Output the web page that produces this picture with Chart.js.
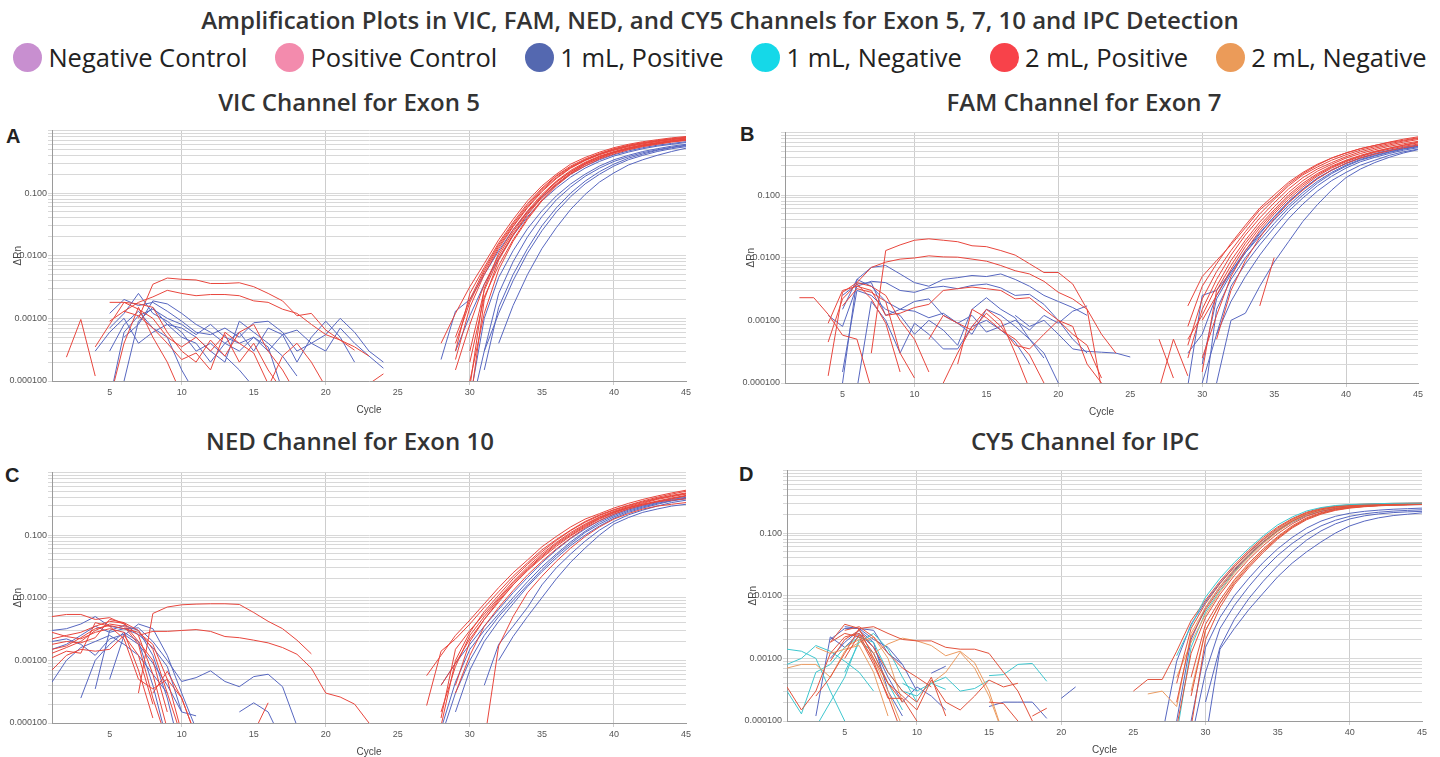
<!DOCTYPE html>
<html>
<head>
<meta charset="utf-8">
<title>Amplification Plots</title>
<script src="https://cdn.jsdelivr.net/npm/chart.js@4.4.1/dist/chart.umd.min.js"></script>
<style>
  body { margin:0; width:1440px; height:757px; overflow:hidden; background:#fff; position:relative;
         font-family:'Open Sans', sans-serif; color:#333; }
  #title { position:absolute; top:4px; left:0; width:1440px; text-align:center; font-weight:600; font-size:24px; line-height:32px; }
  #legend { position:absolute; top:40px; left:0; width:1440px; display:flex; justify-content:center; gap:28px; }
  .item { display:flex; align-items:center; gap:6px; font-size:25.5px; line-height:34px; color:#222; }
  .dot { width:29px; height:29px; border-radius:50%; }
  .sub { position:absolute; width:600px; text-align:center; font-weight:600; font-size:24px; line-height:32px; }
  .letter { position:absolute; font-family:'Liberation Sans', Arial, sans-serif; font-weight:700; font-size:20px; color:#222; }
  canvas { position:absolute; }
</style>
</head>
<body>
<div id="title">Amplification Plots in VIC, FAM, NED, and CY5 Channels for Exon 5, 7, 10 and IPC Detection</div>
<div id="legend"></div>

<div class="sub" style="left:49px;top:86px">VIC Channel for Exon 5</div>
<div class="sub" style="left:784px;top:86px">FAM Channel for Exon 7</div>
<div class="sub" style="left:50px;top:425px">NED Channel for Exon 10</div>
<div class="sub" style="left:785px;top:425px">CY5 Channel for IPC</div>

<div class="letter" style="left:6px;top:125px">A</div>
<div class="letter" style="left:740px;top:123px">B</div>
<div class="letter" style="left:5px;top:464px">C</div>
<div class="letter" style="left:739px;top:463px">D</div>

<canvas id="chartA" width="700" height="292" style="left:0;top:124px"></canvas>
<canvas id="chartB" width="699" height="292" style="left:733px;top:126px"></canvas>
<canvas id="chartC" width="700" height="292" style="left:0;top:466px"></canvas>
<canvas id="chartD" width="701" height="292" style="left:735px;top:464px"></canvas>

<script>
'use strict';

// legend
var legendLabels = ['Negative Control', 'Positive Control', '1 mL, Positive', '1 mL, Negative', '2 mL, Positive', '2 mL, Negative'];
var legendColors = ['#c88fd0', '#f38bad', '#5468b0', '#15d8e8', '#f8424a', '#eb9b59'];

// axes
var cycleTicks = [5, 10, 15, 20, 25, 30, 35, 40, 45];
var yTickLabels = ['0.000100', '0.00100', '0.0100', '0.100'];

// each row: [first cycle, dRn at that cycle, next cycle, ...]

// ---- A: VIC, exon 5
var vicBlueNoise = [
  [5, 7e-4, 1.2e-3, 2.5e-3, 1.2e-3, 9e-4, 6e-4, 3e-4, 4e-4, 2.5e-4, 1.5e-4, 8e-5],
  [5, 1.2e-3, 2.0e-3, 1.6e-3, 1.8e-3, 1.3e-3, 9e-4, 6e-4, 5.5e-4, 7e-4, 5e-4, 8.5e-4, 9e-4, 6e-4, 3e-4, 4e-4, 5.5e-4, 1e-3, 6e-4, 3e-4, 2e-4],
  [5, 3e-4, 8e-4, 1.3e-3, 7e-4, 5e-4, 1.5e-4, 6e-5],
  [4, 3e-4, 6e-4, 1.0e-3, 4e-4, 6e-4, 8e-4, 5e-4, 4e-4, 2e-4, 4e-4, 6e-4, 3e-4, 7e-4, 5.5e-4, 6.5e-4, 4e-4, 3e-4, 7e-4, 4e-4, 2.5e-4, 1.6e-4],
  [6, 1e-4, 9e-4, 1.5e-3, 8e-4, 7e-4, 5e-4, 3e-4, 2e-4, 9e-4, 6e-4, 4e-4, 2.5e-4, 1.2e-4],
  [5, 5e-5, 6e-4, 1.1e-3, 1.4e-3, 1e-3, 8e-4, 5.5e-4, 8e-4, 5e-4, 4e-4, 5e-4, 3e-4, 5.5e-4, 2e-4, 5e-4, 9e-4, 5e-4, 2e-4],
  [6, 5e-4, 8e-4, 1.9e-3, 1.7e-3, 1.2e-3, 8e-4, 6e-4, 4e-4, 3e-4, 5e-4, 3.5e-4, 7e-5]
];
var vicRedNoise = [
  [7, 1.0e-3, 3.5e-3, 4.4e-3, 4.2e-3, 4.1e-3, 3.6e-3, 3.6e-3, 3.7e-3, 3.2e-3, 2.5e-3, 1.9e-3, 1.1e-3, 1.2e-3, 6.5e-4, 4.5e-4, 3.1e-4],
  [6, 1.3e-3, 1.8e-3, 2.2e-3, 2.8e-3, 2.5e-3, 2.3e-3, 2.4e-3, 2.4e-3, 2.3e-3, 1.9e-3, 1.8e-3, 1.4e-3, 1.2e-3, 8e-4, 5.5e-4, 4.5e-4, 3.5e-4, 2.5e-4],
  [2, 2.4e-4, 9.6e-4, 1.2e-4],
  [4, 3.5e-4, 8e-4, 1.8e-3, 1.7e-3, 1.5e-3, 6e-4, 3e-4, 2e-4, 4.5e-4, 2.5e-4, 6e-4, 8e-4, 3e-4, 1.5e-4, 6e-5],
  [5, 1.8e-3, 1.8e-3, 1.4e-3, 1.0e-3, 5e-4, 3.5e-4, 5e-4, 3e-4, 5.5e-4, 2e-4, 4e-4, 1.5e-4, 7e-5],
  [5, 9e-4, 1.3e-3, 1.1e-3, 7e-4, 4e-4, 2.2e-4, 2.8e-4, 1.5e-4, 6e-4, 4e-4, 2.8e-4, 9e-5],
  [5, 5e-5, 4e-4, 1.5e-3, 5e-4, 2e-4, 6e-5],
  [16, 8e-5, 2.5e-4, 4e-4, 2e-4, 8e-5],
  [23, 9e-5, 1.3e-4]
];
var vicBlueAmp = [
  [28, 2.2e-4, 1.3e-3, 2.0e-3, 5e-3, 0.012, 0.026, 0.05, 0.085, 0.135, 0.2, 0.27, 0.34, 0.41, 0.47, 0.53, 0.58, 0.62, 0.66],
  [30, 5e-5, 1.0e-3, 4.5e-3, 0.012, 0.027, 0.052, 0.09, 0.14, 0.2, 0.27, 0.34, 0.4, 0.46, 0.51, 0.56, 0.6],
  [31, 1.5e-4, 1.5e-3, 5e-3, 0.013, 0.03, 0.058, 0.1, 0.155, 0.22, 0.29, 0.36, 0.42, 0.48, 0.53, 0.57],
  [32, 4e-4, 1.6e-3, 5e-3, 0.013, 0.028, 0.055, 0.095, 0.15, 0.21, 0.28, 0.34, 0.4, 0.46, 0.52],
  [29, 3e-4, 1.1e-3, 3.5e-3, 9e-3, 0.021, 0.042, 0.075, 0.12, 0.18, 0.25, 0.32, 0.39, 0.45, 0.51, 0.56, 0.6, 0.64],
  [30, 3e-5, 3e-4, 2.5e-3, 8e-3, 0.02, 0.042, 0.078, 0.125, 0.185, 0.25, 0.32, 0.38, 0.44, 0.49, 0.54, 0.58],
  [31, 3e-4, 1.2e-3, 4e-3, 0.011, 0.025, 0.05, 0.088, 0.14, 0.2, 0.27, 0.34, 0.4, 0.46, 0.51, 0.55]
];
var vicRedAmp = [
  [28, 4e-4, 1.2e-3, 3.2e-3, 7.5e-3, 0.018, 0.038, 0.075, 0.13, 0.2, 0.29, 0.37, 0.45, 0.53, 0.6, 0.66, 0.71, 0.76, 0.8],
  [29, 3e-4, 2.5e-3, 6.5e-3, 0.016, 0.034, 0.068, 0.12, 0.19, 0.27, 0.35, 0.43, 0.51, 0.58, 0.64, 0.69, 0.74, 0.78],
  [29, 2.2e-4, 1.5e-3, 5e-3, 0.013, 0.029, 0.058, 0.105, 0.17, 0.25, 0.33, 0.41, 0.48, 0.55, 0.61, 0.66, 0.71, 0.75],
  [30, 8e-5, 3e-3, 0.011, 0.026, 0.052, 0.095, 0.155, 0.23, 0.31, 0.39, 0.46, 0.53, 0.59, 0.64, 0.69, 0.73],
  [29, 1.5e-4, 8e-4, 3.5e-3, 0.01, 0.024, 0.05, 0.09, 0.15, 0.22, 0.3, 0.38, 0.45, 0.52, 0.58, 0.63, 0.68, 0.72],
  [30, 4e-5, 2e-3, 8.5e-3, 0.021, 0.045, 0.085, 0.14, 0.21, 0.29, 0.36, 0.44, 0.5, 0.56, 0.61, 0.66, 0.7],
  [29, 5e-4, 2e-3, 6e-3, 0.015, 0.032, 0.064, 0.115, 0.185, 0.26, 0.34, 0.42, 0.5, 0.57, 0.63, 0.68, 0.73, 0.77],
  [30, 1e-4, 1.2e-3, 6e-3, 0.017, 0.038, 0.075, 0.13, 0.2, 0.27, 0.35, 0.42, 0.49, 0.55, 0.6, 0.65, 0.69],
  [29, 4e-4, 1.8e-3, 5.5e-3, 0.014, 0.03, 0.06, 0.11, 0.175, 0.255, 0.335, 0.415, 0.49, 0.56, 0.62, 0.67, 0.72, 0.76],
  [30, 2e-4, 2.2e-3, 7e-3, 0.018, 0.04, 0.078, 0.135, 0.205, 0.285, 0.365, 0.44, 0.51, 0.57, 0.62, 0.67, 0.71],
  [30, 3e-4, 2.8e-3, 9e-3, 0.022, 0.047, 0.088, 0.15, 0.22, 0.3, 0.38, 0.45, 0.52, 0.58, 0.63, 0.68, 0.72]
];

// ---- B: FAM, exon 7
var famBlueNoise = [
  [5, 1.5e-3, 4.5e-3, 7e-3, 7.5e-3, 5.5e-3, 4e-3, 3.5e-3, 4.5e-3, 4.8e-3, 5.2e-3, 5e-3, 5.5e-3, 4.5e-3, 3.5e-3, 2.5e-3, 2e-3, 1.6e-3, 1.2e-3],
  [4, 1.2e-3, 8e-4, 3.5e-3, 4.2e-3, 4e-3, 3e-3, 2.8e-3, 3.3e-3, 3.5e-3, 3.2e-3, 3.6e-3, 3.8e-3, 3.3e-3, 2.5e-3, 2.6e-3, 1.8e-3, 1.0e-3, 5e-4, 3e-4],
  [5, 1.5e-4, 3e-3, 2.5e-3, 1.5e-3, 1.2e-3, 6e-4, 1e-3, 7e-4, 4e-4, 1.5e-3, 2.3e-3, 1.5e-3, 1.1e-3, 5e-4, 2.5e-4],
  [5, 1e-4, 4.5e-3, 3.5e-3, 2e-3, 1.5e-3, 2e-3, 2.2e-3, 1.2e-3, 9e-4, 1.2e-3, 6.5e-4, 8e-4, 1.0e-3, 7e-4, 1.2e-3, 9e-4, 1.4e-3, 1.7e-3],
  [6, 8e-5, 2e-3, 1e-3, 3e-4, 9e-4, 6e-4, 3.5e-4, 3.5e-4, 8e-4, 1.0e-3, 7e-4, 4.5e-4, 2e-4],
  [5, 2.5e-3, 3.8e-3, 4e-3, 1.2e-3, 1.5e-3, 1.4e-3, 1.1e-3, 1.3e-3, 9e-4, 6e-4, 1.5e-3, 1.2e-3, 8e-4, 5e-4, 3e-4, 1e-4],
  [17, 1.2e-3, 8e-4, 1e-3, 6e-4, 3.5e-4, 3.2e-4, 3.1e-4, 3e-4, 2.6e-4]
];
var famRedNoise = [
  [7, 3e-4, 0.013, 0.016, 0.019, 0.02, 0.019, 0.018, 0.0155, 0.015, 0.013, 0.011, 8e-3, 5.8e-3, 5.8e-3, 3.8e-3, 1.5e-3, 8e-5],
  [6, 4e-3, 7e-3, 8.5e-3, 9.5e-3, 0.0099, 0.0107, 0.0103, 0.0102, 0.0095, 0.0088, 0.0075, 0.0062, 0.0055, 0.0042, 2.8e-3, 2.2e-3, 1.5e-3, 6e-4, 3e-4],
  [2, 2.3e-3, 2.3e-3, 1.25e-3, 5.8e-4, 5e-4, 8e-5],
  [4, 1.3e-4, 2.8e-3, 4e-3, 3.5e-3, 2.5e-3, 1e-3, 5e-4, 1.5e-4],
  [4, 9e-4, 3e-3, 3.5e-3, 3e-3, 1.2e-3, 1.3e-3, 1.6e-3, 1.8e-3, 3e-3, 3.2e-3, 3.4e-3, 3.2e-3, 3e-3, 2.2e-3, 2.3e-3, 1.5e-3, 1.0e-3, 6e-4, 4e-4, 1.2e-4],
  [5, 1.7e-3, 3.2e-3, 2.8e-3, 2e-3, 3e-4, 1.2e-4],
  [11, 5e-4, 1.2e-3, 9e-4, 7e-4, 1.3e-3, 8e-4, 4e-4, 3.5e-4, 6e-4, 1.0e-3, 8e-4, 2e-4, 1.0e-4],
  [13, 2e-4, 1.5e-3, 1.1e-3, 7e-4, 5e-4, 2.8e-4, 1e-4],
  [4, 4.5e-4, 2.2e-3, 3.8e-3, 2.2e-3, 9e-4, 1.5e-4],
  [12, 1e-4, 3e-4, 8e-4, 1.5e-3, 1e-3, 3e-4, 8e-5],
  [27, 5e-4, 1.2e-4],
  [27, 8e-5, 5e-4, 1.3e-4],
  [34, 1.7e-3, 0.01]
];
var famBlueAmp = [
  [29, 9e-5, 2.5e-3, 3e-3, 6e-3, 0.013, 0.025, 0.045, 0.078, 0.125, 0.185, 0.25, 0.32, 0.39, 0.46, 0.52, 0.58, 0.63],
  [29, 3e-4, 6e-4, 2.5e-3, 6e-3, 0.012, 0.022, 0.04, 0.068, 0.11, 0.165, 0.23, 0.3, 0.37, 0.43, 0.49, 0.55, 0.6],
  [30, 1e-4, 6e-4, 3.5e-3, 8e-3, 0.016, 0.03, 0.055, 0.09, 0.14, 0.2, 0.27, 0.34, 0.4, 0.46, 0.52, 0.57],
  [31, 6e-4, 2e-3, 5e-3, 0.011, 0.022, 0.042, 0.072, 0.115, 0.17, 0.23, 0.3, 0.36, 0.43, 0.49, 0.54],
  [31, 1e-4, 1e-3, 1.3e-3, 3.5e-3, 8.5e-3, 0.018, 0.038, 0.07, 0.12, 0.19, 0.26, 0.33, 0.4, 0.47, 0.53],
  [30, 3e-5, 1.5e-3, 4.5e-3, 0.01, 0.019, 0.035, 0.062, 0.1, 0.155, 0.22, 0.29, 0.36, 0.42, 0.48, 0.54, 0.59],
  [30, 2e-4, 2.2e-3, 5.5e-3, 0.012, 0.024, 0.045, 0.078, 0.125, 0.185, 0.25, 0.32, 0.39, 0.45, 0.51, 0.56, 0.61]
];
var famRedAmp = [
  [29, 1.7e-3, 5e-3, 9e-3, 0.016, 0.03, 0.058, 0.09, 0.15, 0.22, 0.3, 0.39, 0.47, 0.55, 0.62, 0.7, 0.78, 0.85],
  [29, 2.5e-4, 1.5e-3, 4.5e-3, 0.011, 0.023, 0.043, 0.075, 0.125, 0.19, 0.26, 0.33, 0.41, 0.49, 0.56, 0.63, 0.7, 0.77],
  [29, 5e-4, 1.2e-3, 3.5e-3, 9e-3, 0.019, 0.037, 0.065, 0.11, 0.17, 0.24, 0.31, 0.39, 0.46, 0.53, 0.6, 0.66, 0.72],
  [30, 1.5e-4, 3e-3, 7.5e-3, 0.017, 0.033, 0.058, 0.1, 0.155, 0.22, 0.29, 0.36, 0.43, 0.5, 0.56, 0.62, 0.68],
  [30, 2.5e-4, 1.2e-3, 5e-3, 0.013, 0.027, 0.05, 0.085, 0.135, 0.2, 0.27, 0.34, 0.41, 0.48, 0.54, 0.6, 0.65],
  [31, 5e-4, 3e-3, 9e-3, 0.021, 0.042, 0.075, 0.12, 0.18, 0.25, 0.32, 0.39, 0.45, 0.51, 0.57, 0.62],
  [29, 4e-4, 2.2e-3, 6e-3, 0.013, 0.026, 0.05, 0.085, 0.14, 0.21, 0.28, 0.36, 0.44, 0.52, 0.59, 0.66, 0.73, 0.8],
  [30, 1e-3, 2.5e-3, 6.5e-3, 0.015, 0.03, 0.054, 0.093, 0.145, 0.21, 0.28, 0.35, 0.42, 0.49, 0.56, 0.63, 0.7],
  [29, 8e-4, 3.5e-3, 8e-3, 0.017, 0.033, 0.062, 0.1, 0.16, 0.23, 0.31, 0.39, 0.47, 0.55, 0.62, 0.69, 0.75, 0.82]
];

// ---- C: NED, exon 10
var nedBlueNoise = [
  [1, 3e-3, 3.2e-3, 3.8e-3, 5e-3, 3.5e-3, 3.2e-3, 2.6e-3, 1.6e-3, 8e-4, 1.5e-4],
  [1, 1.5e-3, 1.8e-3, 2.5e-3, 3.5e-3, 2.8e-3, 3.2e-3, 3.3e-3, 2e-3, 1e-3, 4.6e-4, 5.3e-4, 6.8e-4, 4.6e-4, 3.8e-4, 5.5e-4, 6e-4, 3.8e-4, 9e-5],
  [1, 4.5e-4, 1e-3, 1.6e-3, 2e-3, 2.5e-3, 1.8e-3, 1.2e-3, 6e-4, 3e-4],
  [3, 2.5e-4, 1e-3, 1.8e-3, 2.8e-3, 2e-3, 4e-4, 5e-5],
  [4, 3.5e-4, 3e-3, 3.6e-3, 3e-3, 1.2e-3, 2.5e-4, 3e-5],
  [1, 2e-3, 2.2e-3, 1.8e-3, 1.2e-3, 2.2e-3, 2.6e-3, 1.8e-3, 9e-4, 4e-4, 1.5e-4, 1.3e-4],
  [14, 1.5e-4, 2.1e-4, 1.5e-4, 5e-5],
  [5, 5e-4, 2.5e-3, 3.8e-3, 3.2e-3, 1.2e-3, 3e-4, 8e-5]
];
var nedRedNoise = [
  [7, 3e-4, 5.6e-3, 7.1e-3, 7.7e-3, 7.9e-3, 8e-3, 8e-3, 7.8e-3, 5.8e-3, 4.2e-3, 3.2e-3, 2.1e-3, 1.27e-3],
  [7, 2.5e-3, 2.9e-3, 2.9e-3, 3.0e-3, 3.1e-3, 2.9e-3, 2.4e-3, 2.3e-3, 2.1e-3, 1.9e-3, 1.6e-3, 1.25e-3, 7.5e-4, 3e-4, 2.6e-4, 2e-4, 1e-4],
  [1, 5e-3, 5.4e-3, 5.4e-3, 4.5e-3, 4.8e-3, 3.8e-3, 2e-3, 1e-3, 1.5e-4],
  [1, 2.2e-3, 2.5e-3, 2.8e-3, 3.5e-3, 4.2e-3, 3.9e-3, 2.5e-3, 6e-4, 8e-5],
  [1, 1.3e-3, 1.6e-3, 2e-3, 3e-3, 3.8e-3, 3.5e-3, 1.8e-3, 2.5e-4, 5e-5],
  [1, 7e-4, 1.2e-3, 1.5e-3, 1.4e-3, 1.5e-3, 2.5e-3, 1.2e-3, 2e-4],
  [1, 2.8e-3, 2.4e-3, 2.2e-3, 2.8e-3, 3.2e-3, 2.8e-3, 7e-4, 1.2e-4],
  [1, 1.8e-3, 2e-3, 1.9e-3, 2.3e-3, 4.5e-3, 4e-3, 3e-3, 1.5e-3, 3e-4, 6e-5],
  [1, 1.1e-3, 1.4e-3, 1.3e-3, 4e-3, 3.5e-3, 2.2e-3, 5e-4, 3.5e-4, 5e-4, 2.5e-4, 6e-5],
  [1, 1.5e-3, 1.7e-3, 2.3e-3, 3.2e-3, 3.6e-3, 3.2e-3, 2.8e-3, 1.8e-3, 5e-4, 7e-5],
  [8, 3e-4, 6.7e-4, 2.5e-4, 6e-5],
  [15, 7e-5, 2.1e-4]
];
var nedBlueAmp = [
  [28, 4e-4, 9e-4, 1.8e-3, 3.5e-3, 6.5e-3, 0.012, 0.021, 0.036, 0.058, 0.088, 0.125, 0.17, 0.215, 0.26, 0.3, 0.34, 0.38, 0.42],
  [28, 8e-5, 4.5e-4, 1.5e-3, 3e-3, 5.5e-3, 0.01, 0.018, 0.031, 0.05, 0.078, 0.115, 0.16, 0.205, 0.25, 0.29, 0.33, 0.37, 0.4],
  [29, 1.5e-4, 7e-4, 2e-3, 4.2e-3, 8e-3, 0.015, 0.026, 0.043, 0.068, 0.1, 0.14, 0.185, 0.23, 0.27, 0.31, 0.35, 0.38],
  [31, 4e-4, 1.8e-3, 3.5e-3, 7e-3, 0.016, 0.03, 0.05, 0.08, 0.12, 0.165, 0.21, 0.25, 0.29, 0.33, 0.36],
  [32, 1e-3, 2.4e-3, 5e-3, 0.01, 0.02, 0.037, 0.062, 0.1, 0.15, 0.19, 0.23, 0.26, 0.29, 0.31],
  [28, 6e-5, 3e-4, 1e-3, 2.5e-3, 5e-3, 9e-3, 0.016, 0.028, 0.047, 0.073, 0.11, 0.15, 0.195, 0.24, 0.28, 0.32, 0.355, 0.39]
];
var nedRedAmp = [
  [27, 5.7e-4, 1.2e-3, 2.5e-3, 4.4e-3, 8e-3, 0.0145, 0.025, 0.04, 0.065, 0.095, 0.135, 0.18, 0.22, 0.27, 0.32, 0.37, 0.42, 0.47, 0.52],
  [27, 1.9e-4, 1.4e-3, 2.2e-3, 3.8e-3, 7e-3, 0.0125, 0.022, 0.036, 0.058, 0.085, 0.12, 0.165, 0.21, 0.255, 0.3, 0.35, 0.4, 0.45, 0.5],
  [28, 1.2e-4, 1.5e-3, 3e-3, 5.5e-3, 0.01, 0.018, 0.031, 0.05, 0.076, 0.11, 0.15, 0.195, 0.24, 0.285, 0.33, 0.38, 0.42, 0.46],
  [29, 4e-4, 2e-3, 4.5e-3, 8.5e-3, 0.016, 0.028, 0.045, 0.07, 0.1, 0.14, 0.185, 0.23, 0.275, 0.32, 0.37, 0.41, 0.45],
  [29, 3e-4, 1.2e-3, 3.5e-3, 7e-3, 0.013, 0.023, 0.038, 0.06, 0.09, 0.13, 0.17, 0.215, 0.26, 0.3, 0.34, 0.38, 0.42],
  [28, 1.5e-4, 8e-4, 2.5e-3, 5e-3, 9.5e-3, 0.017, 0.029, 0.047, 0.073, 0.105, 0.145, 0.19, 0.235, 0.275, 0.31, 0.34, 0.36, 0.38],
  [31, 5e-5, 1.7e-3, 5e-3, 0.012, 0.022, 0.038, 0.062, 0.095, 0.135, 0.18, 0.22, 0.26, 0.29, 0.31, 0.33],
  [28, 4e-4, 9e-4, 2.2e-3, 4.5e-3, 9e-3, 0.016, 0.027, 0.043, 0.066, 0.097, 0.135, 0.18, 0.225, 0.27, 0.31, 0.35, 0.39, 0.43],
  [28, 9e-5, 1e-3, 2.8e-3, 6e-3, 0.011, 0.02, 0.034, 0.054, 0.082, 0.118, 0.16, 0.205, 0.25, 0.295, 0.34, 0.385, 0.43, 0.47]
];

// ---- D: CY5, IPC
var cy5BlueNoise = [
  [4, 2e-3, 3e-3, 3e-3, 2.8e-3, 1.2e-3, 8e-4, 3e-4],
  [3, 1.2e-4, 2.2e-3, 1.5e-3, 2.5e-3, 1.5e-3, 5e-4, 2e-4, 3.5e-4, 2.5e-4, 1.5e-4],
  [5, 3.2e-3, 3e-3, 2e-3, 1.5e-3, 8e-4],
  [4, 1e-3, 1.8e-3, 2.8e-3, 1.8e-3, 3e-4, 1.2e-4],
  [11, 5.8e-4, 7.5e-4],
  [15, 1.7e-4, 2e-4, 2e-4, 2e-4, 1.1e-4],
  [20, 2.3e-4, 3.5e-4]
];
var cy5CyanNoise = [
  [1, 1.4e-3, 1.3e-3, 1.0e-3, 3e-4, 1e-4],
  [1, 8e-4, 1e-3, 1.6e-3, 1.3e-3, 9e-4, 6e-4, 3e-4],
  [1, 3e-4, 1.3e-4, 6e-4, 8e-4, 1.5e-3, 2.2e-3, 1.8e-3, 6e-4, 3e-4, 2.5e-4, 4e-4, 3.2e-4],
  [3, 8e-5, 2e-4, 5e-4, 2e-3, 1.2e-3, 4e-4, 1.5e-4],
  [9, 4e-4, 3e-4, 4e-4, 5e-4, 3e-4, 3.3e-4, 4.5e-4],
  [15, 5.3e-4, 5.5e-4, 8e-4, 8.3e-4, 4.3e-4],
  [5, 6e-4, 1.8e-3, 2.5e-3, 1.4e-3, 5e-4, 2e-4]
];
var cy5OrangeNoise = [
  [1, 7e-4, 8e-4, 8e-4, 5e-4, 1.3e-3, 1.8e-3, 2.2e-3, 1e-3, 2e-4],
  [3, 1.5e-3, 1.2e-3, 1.4e-3, 1.6e-3, 6e-4, 1.2e-4],
  [7, 1.2e-3, 1.7e-3, 2.1e-3, 1.9e-3, 1.6e-3, 1.1e-3, 1.3e-3, 8.5e-4, 3e-4, 6e-5],
  [11, 4e-4, 6e-4, 1.25e-3, 7e-4, 2.5e-4, 6e-5],
  [5, 1.5e-3, 2e-3, 1e-3, 3e-4, 8e-5]
];
var cy5RedNoise = [
  [4, 1.8e-3, 3.5e-3, 3e-3, 3.2e-3, 2.5e-3, 2.0e-3, 1.9e-3, 1.9e-3, 1.5e-3, 1.4e-3, 1.4e-3, 1.2e-3, 6e-4, 3e-4, 1.0e-4],
  [1, 3.5e-4, 1.5e-4, 3e-4, 1.2e-3, 2.2e-3, 2.5e-3, 1.2e-3, 4e-4, 2e-4],
  [4, 9e-4, 2e-3, 2.8e-3, 1.5e-3, 6e-4, 3e-4, 2e-4, 5e-4, 1.2e-4],
  [4, 1.8e-3, 2.5e-3, 2.2e-3, 8e-4, 2.5e-4, 6e-5],
  [3, 2.5e-4, 5e-4, 1.2e-3, 3e-3, 1e-3, 4e-4, 2.5e-4, 1.5e-4, 4.5e-4, 2e-4, 1.5e-4, 2.5e-4, 4.5e-4, 3.5e-4, 4e-4],
  [5, 1e-3, 2.4e-3, 9e-4, 2.3e-4, 2.3e-4, 1e-4],
  [5, 2.8e-3, 3.2e-3, 2.2e-3, 1.2e-3, 7e-4, 5e-4, 3.5e-4],
  [15, 2e-4, 1.9e-4, 1e-4],
  [18, 1.2e-4, 1.6e-4]
];
var cy5BlueAmp = [
  [27, 6e-5, 9e-4, 3.5e-3, 8e-3, 0.016, 0.029, 0.049, 0.078, 0.115, 0.155, 0.195, 0.228, 0.25, 0.264, 0.272, 0.278, 0.282, 0.285, 0.287],
  [29, 1e-4, 1.5e-3, 4.5e-3, 0.01, 0.019, 0.034, 0.056, 0.085, 0.12, 0.155, 0.185, 0.207, 0.222, 0.232, 0.24, 0.245, 0.25],
  [30, 5e-5, 1.4e-3, 3e-3, 6e-3, 0.011, 0.02, 0.033, 0.05, 0.072, 0.1, 0.13, 0.155, 0.175, 0.19, 0.2, 0.21],
  [30, 2e-4, 1.5e-3, 4.2e-3, 9e-3, 0.017, 0.03, 0.05, 0.077, 0.108, 0.14, 0.168, 0.188, 0.202, 0.212, 0.218, 0.222],
  [29, 5e-5, 6e-4, 3e-3, 7e-3, 0.014, 0.026, 0.044, 0.068, 0.098, 0.13, 0.16, 0.185, 0.203, 0.215, 0.224, 0.23, 0.235],
  [28, 1e-4, 2e-3, 6.5e-3, 0.014, 0.026, 0.045, 0.073, 0.108, 0.148, 0.19, 0.222, 0.245, 0.26, 0.27, 0.276, 0.28, 0.283, 0.285]
];
var cy5CyanAmp = [
  [28, 1.1e-3, 3.3e-3, 9.5e-3, 0.019, 0.034, 0.057, 0.09, 0.135, 0.18, 0.225, 0.255, 0.275, 0.285, 0.29, 0.295, 0.298, 0.3, 0.3],
  [28, 6e-5, 1.5e-3, 5.5e-3, 0.012, 0.024, 0.043, 0.07, 0.107, 0.15, 0.195, 0.23, 0.255, 0.27, 0.278, 0.284, 0.288, 0.29, 0.292]
];
var cy5OrangeAmp = [
  [26, 2.7e-4, 3e-4, 1.7e-4, 2.5e-3, 6.5e-3, 0.014, 0.027, 0.047, 0.077, 0.115, 0.16, 0.205, 0.24, 0.262, 0.275, 0.283, 0.288, 0.291, 0.293, 0.295],
  [28, 5e-4, 1.8e-3, 5e-3, 0.0115, 0.023, 0.041, 0.068, 0.105, 0.15, 0.195, 0.23, 0.255, 0.27, 0.278, 0.284, 0.288, 0.291, 0.293],
  [29, 3e-4, 2.8e-3, 7.5e-3, 0.017, 0.031, 0.053, 0.085, 0.125, 0.17, 0.208, 0.236, 0.255, 0.267, 0.275, 0.28, 0.284, 0.287]
];
var cy5RedAmp = [
  [25, 3e-4, 4.6e-4, 4.6e-4, 1.3e-3, 4e-3, 8.5e-3, 0.017, 0.031, 0.053, 0.085, 0.125, 0.17, 0.215, 0.25, 0.27, 0.282, 0.29, 0.295, 0.298, 0.3, 0.302],
  [28, 2e-4, 2.2e-3, 6e-3, 0.013, 0.025, 0.044, 0.072, 0.11, 0.155, 0.2, 0.235, 0.258, 0.272, 0.28, 0.286, 0.29, 0.293, 0.296],
  [28, 8e-5, 1.2e-3, 4.5e-3, 0.0105, 0.021, 0.038, 0.063, 0.098, 0.14, 0.185, 0.222, 0.248, 0.264, 0.274, 0.28, 0.285, 0.288, 0.29],
  [29, 5e-4, 3.5e-3, 8.5e-3, 0.018, 0.033, 0.056, 0.088, 0.13, 0.175, 0.212, 0.24, 0.258, 0.27, 0.277, 0.282, 0.285, 0.288],
  [29, 8e-5, 2e-3, 6.5e-3, 0.015, 0.028, 0.049, 0.08, 0.12, 0.163, 0.2, 0.23, 0.25, 0.263, 0.272, 0.278, 0.282, 0.285],
  [29, 2.5e-4, 2.8e-3, 7.5e-3, 0.016, 0.03, 0.052, 0.083, 0.124, 0.168, 0.206, 0.234, 0.254, 0.266, 0.274, 0.28, 0.284, 0.287],
  [28, 4e-4, 3e-3, 7.5e-3, 0.0155, 0.029, 0.05, 0.08, 0.12, 0.165, 0.21, 0.243, 0.264, 0.277, 0.285, 0.29, 0.294, 0.297, 0.299]
];

// line colours
var blue = '#5767c0';
var red = '#e8463d';
var redD = '#e2533d';
var orange = '#eb9c62';
var cyan = '#3fc7cf';

// build legend
var legendEl = document.getElementById('legend');
legendLabels.forEach(function(lbl, i){
  var it = document.createElement('div');
  it.className = 'item';
  it.innerHTML = '<span class="dot" style="background:' + legendColors[i] + '"></span><span>' + lbl + '</span>';
  legendEl.appendChild(it);
});

// gridlines at every 1..9 x 10^n between 1e-4 and 1
var yGrid = [];
for (var e = -4; e < 0; e++) {
  for (var m = 1; m <= 9; m++) yGrid.push(parseFloat((m * Math.pow(10, e)).toPrecision(3)));
}
yGrid.push(1);

Chart.defaults.font.family = "'Liberation Sans', Arial, sans-serif";
Chart.defaults.animation = false;

function toSets(rows, color) {
  return rows.map(function(r){
    return {
      data: r.slice(1).map(function(v, i){ return { x: r[0] + i, y: v }; }),
      borderColor: color,
      borderWidth: 1,
      pointRadius: 0,
      tension: 0,
      fill: false
    };
  });
}

function makeChart(id, groups) {
  var sets = [];
  groups.forEach(function(g){ sets = sets.concat(toSets(g[0], g[1])); });
  // first dataset ends up on top
  return new Chart(document.getElementById(id), {
    type: 'line',
    data: { datasets: sets },
    options: {
      responsive: false,
      devicePixelRatio: 1,
      layout: { padding: { top: 5, right: 14, left: 0, bottom: 0 } },
      plugins: { legend: { display: false }, tooltip: { enabled: false } },
      scales: {
        x: {
          type: 'linear', min: 1, max: 45,
          afterBuildTicks: function(s){ s.ticks = cycleTicks.map(function(v){ return { value: v }; }); },
          afterFit: function(s){ s.height = 35; },
          ticks: { autoSkip: false, maxRotation: 0, font: { size: 9 }, color: '#555', padding: 2 },
          grid: {
            color: function(c){ return c.tick && c.tick.value % 10 === 0 ? '#cdcdcd' : 'rgba(0,0,0,0)'; },
            tickLength: 4
          },
          border: { color: '#9a9a9a' },
          title: { display: true, text: 'Cycle', font: { size: 10 }, color: '#444', padding: { top: 0, bottom: 0 } }
        },
        y: {
          type: 'logarithmic', min: 1e-4, max: 1,
          afterBuildTicks: function(s){ s.ticks = yGrid.map(function(v){ return { value: v }; }); },
          afterFit: function(s){ s.width = 52; },
          ticks: {
            autoSkip: false, font: { size: 9 }, color: '#555', padding: 1,
            callback: function(v){
              var k = Math.round(Math.log10(v));
              if (Math.abs(Math.log10(v) - k) < 1e-6 && k < 0) return yTickLabels[k + 4];
              return '';
            }
          },
          grid: { color: '#d8d8d8', tickLength: 4 },
          border: { color: '#9a9a9a' },
          title: { display: true, text: 'ΔRn', font: { size: 10 }, color: '#444', padding: { top: 12, bottom: 0 } }
        }
      }
    }
  });
}

makeChart('chartA', [[vicRedAmp, red], [vicRedNoise, red], [vicBlueAmp, blue], [vicBlueNoise, blue]]);
makeChart('chartB', [[famRedAmp, red], [famRedNoise, red], [famBlueAmp, blue], [famBlueNoise, blue]]);
makeChart('chartC', [[nedRedAmp, red], [nedRedNoise, red], [nedBlueAmp, blue], [nedBlueNoise, blue]]);
makeChart('chartD', [[cy5CyanAmp.slice(0, 1), cyan], [cy5RedAmp, redD], [cy5RedNoise, redD], [cy5OrangeAmp, orange],
  [cy5OrangeNoise, orange], [cy5CyanAmp.slice(1), cyan], [cy5CyanNoise, cyan], [cy5BlueAmp, blue], [cy5BlueNoise, blue]]);
</script>
</body>
</html>
